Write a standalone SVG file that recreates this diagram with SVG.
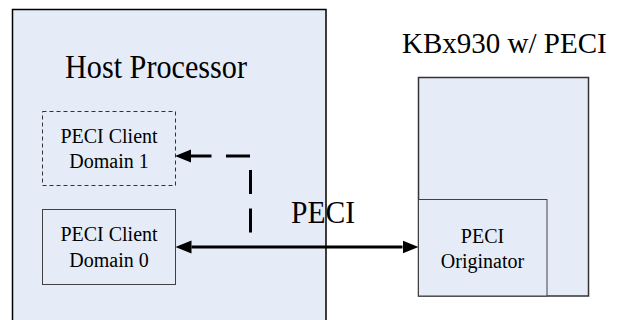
<svg xmlns="http://www.w3.org/2000/svg" width="619" height="320" viewBox="0 0 619 320">
<defs>
<style>
.box{fill:#E6ECF7;}
.t{fill:#000;font-family:"Liberation Serif","DejaVu Serif","Noto Serif","FreeSerif","Tinos",serif;}
.s{font-size:20px;text-anchor:middle;}
.conn{fill:none;stroke:#000;stroke-width:3;}
</style>
<marker id="ah" markerUnits="userSpaceOnUse" markerWidth="16" markerHeight="14" refX="0" refY="6.5" orient="auto-start-reverse" viewBox="0 0 16 13">
<path d="M0,0 L16,6.5 L0,13 z" fill="#000"/>
</marker>
</defs>
<rect width="619" height="320" fill="#fff"/>
<g id="host">
<rect class="box" x="12.5" y="9.5" width="313.5" height="320" stroke="#000" stroke-width="1.5"/>
<text class="t" x="65" y="77.5" font-size="34" textLength="182" lengthAdjust="spacingAndGlyphs">Host Processor</text>
</g>
<g id="domain1">
<rect class="box" x="42.5" y="111.5" width="133" height="74" stroke="#333" stroke-width="1" stroke-dasharray="4 3"/>
<text class="t s" x="109" y="143">PECI Client</text>
<text class="t s" x="109" y="168">Domain 1</text>
</g>
<g id="domain0">
<rect class="box" x="42.5" y="209.5" width="133" height="75" stroke="#404040" stroke-width="1"/>
<text class="t s" x="109" y="241">PECI Client</text>
<text class="t s" x="109" y="266.5">Domain 0</text>
</g>
<g id="kbx930">
<text class="t" x="402" y="53" font-size="29">KBx930 w/ PECI</text>
<rect class="box" x="418.5" y="77.5" width="170" height="218.5" stroke="#333" stroke-width="1.5"/>
</g>
<g id="originator">
<rect class="box" x="418.5" y="199.5" width="128.5" height="96.5" stroke="#404040" stroke-width="1"/>
<text class="t s" x="482.5" y="243">PECI</text>
<text class="t s" x="482.5" y="268">Originator</text>
</g>
<g id="connectors">
<path class="conn" d="M250.5,232.5 V156 H191" stroke-dasharray="24 14.5" marker-end="url(#ah)"/>
<path class="conn" d="M191.5,247 H402.5" marker-start="url(#ah)" marker-end="url(#ah)"/>
<text class="t" x="291" y="223" font-size="32" textLength="64" lengthAdjust="spacingAndGlyphs">PECI</text>
</g>
</svg>
